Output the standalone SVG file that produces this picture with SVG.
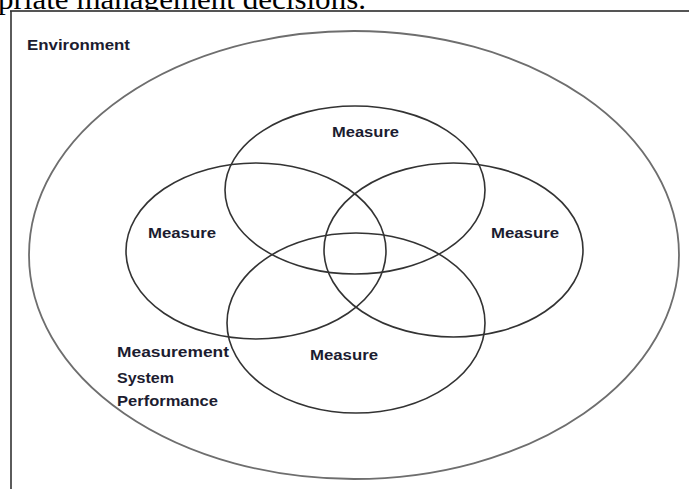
<svg xmlns="http://www.w3.org/2000/svg" width="689" height="489" viewBox="0 0 689 489">
<style>
.hdr{font-family:"Liberation Serif","Times New Roman",serif;font-size:30px;fill:#000}
.lbl{font-family:"Liberation Sans",Arial,sans-serif;font-weight:bold;font-size:14px;fill:#1c1c30}
.inner{fill:none;stroke:#333;stroke-width:1.6}
.outer{fill:none;stroke:#6e6e6e;stroke-width:1.8}
</style>
<rect x="0" y="0" width="689" height="489" fill="#fff"/>
<text class="hdr" x="-2" y="9" textLength="368" lengthAdjust="spacingAndGlyphs">priate management decisions.</text>
<rect x="10" y="11" width="690" height="490" fill="#fff"/>
<line x1="10" y1="11" x2="689" y2="11" stroke="#555" stroke-width="2"/>
<line x1="11" y1="11" x2="11" y2="489" stroke="#333" stroke-width="1.6"/>
<g id="environment">
<ellipse class="outer" cx="354" cy="255" rx="325" ry="224"/>
<text class="lbl" x="27" y="50" textLength="103" lengthAdjust="spacingAndGlyphs">Environment</text>
</g>
<g id="measure-top">
<ellipse class="inner" cx="355" cy="190" rx="130" ry="84"/>
<text class="lbl" x="332" y="137" textLength="67" lengthAdjust="spacingAndGlyphs">Measure</text>
</g>
<g id="measure-left">
<ellipse class="inner" cx="256" cy="251" rx="130" ry="88"/>
<text class="lbl" x="148" y="238" textLength="68" lengthAdjust="spacingAndGlyphs">Measure</text>
</g>
<g id="measure-right">
<ellipse class="inner" cx="453.5" cy="250" rx="129.5" ry="87"/>
<text class="lbl" x="491" y="238" textLength="68" lengthAdjust="spacingAndGlyphs">Measure</text>
</g>
<g id="measure-bottom">
<ellipse class="inner" cx="356" cy="323" rx="129" ry="90"/>
<text class="lbl" x="310" y="360" textLength="68" lengthAdjust="spacingAndGlyphs">Measure</text>
</g>
<g id="msp">
<text class="lbl" x="117" y="357" textLength="112" lengthAdjust="spacingAndGlyphs">Measurement</text>
<text class="lbl" x="117" y="383" textLength="57" lengthAdjust="spacingAndGlyphs">System</text>
<text class="lbl" x="117" y="406" textLength="101" lengthAdjust="spacingAndGlyphs">Performance</text>
</g>
<g id="connectors"></g>
</svg>
